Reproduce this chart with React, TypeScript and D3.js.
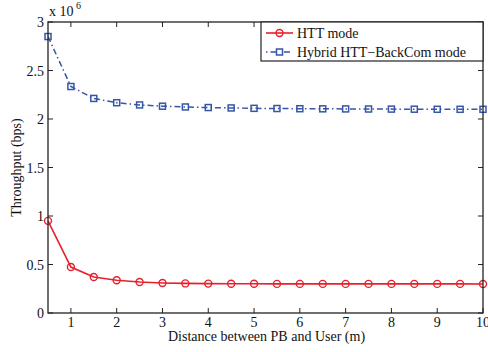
import React from "react";
import * as d3 from "d3";

const distances = [0.5, 1, 1.5, 2, 2.5, 3, 3.5, 4, 4.5, 5, 5.5, 6, 6.5, 7, 7.5, 8, 8.5, 9, 9.5, 10];
const httMode = [0.95, 0.474, 0.371, 0.337, 0.32, 0.31, 0.305, 0.303, 0.302, 0.301, 0.3, 0.3, 0.3, 0.3, 0.3, 0.3, 0.3, 0.3, 0.3, 0.299].map((v) => v * 1e6);
const hybridMode = [2.85, 2.335, 2.212, 2.168, 2.145, 2.132, 2.124, 2.118, 2.114, 2.11, 2.108, 2.106, 2.105, 2.104, 2.103, 2.102, 2.101, 2.1, 2.1, 2.1].map((v) => v * 1e6);
const xTicks = [1, 2, 3, 4, 5, 6, 7, 8, 9, 10];
const yTicks = [0, 0.5, 1, 1.5, 2, 2.5, 3].map((v) => v * 1e6);
const legendLabels = ["HTT mode", "Hybrid HTT\u2212BackCom mode"];

const W = 488;
const H = 352;
const m = { left: 48, right: 5, top: 22, bottom: 39 };
const RED = "#e8202a";
const BLUE = "#3756a8";
const FONT = "'Liberation Serif', 'Times New Roman', serif";
const FS = 14;

export default function App() {
  const x = d3.scaleLinear().domain([0.5, 10]).range([m.left, W - m.right]);
  const y = d3.scaleLinear().domain([0, 3e6]).range([H - m.bottom, m.top]);
  const line = d3
    .line<number>()
    .x((_, i) => x(distances[i]))
    .y((d) => y(d));
  const x0 = x.range()[0], x1 = x.range()[1];
  const y0 = y.range()[0], y1 = y.range()[1];
  const tl = 5;

  return (
    <svg width={W} height={H} style={{ position: "absolute", left: 0, top: 0, background: "#fff" }} fontFamily={FONT}>
      <rect x={0} y={0} width={W} height={H} fill="#fff" />
      {/* ticks */}
      {xTicks.map((t) => (
        <g key={"x" + t}>
          <line x1={x(t)} x2={x(t)} y1={y0} y2={y0 - tl} stroke="#222" />
          <line x1={x(t)} x2={x(t)} y1={y1} y2={y1 + tl} stroke="#222" />
          <text x={x(t)} y={y0 + 14} textAnchor="middle" fontSize={FS} fill="#111">{t}</text>
        </g>
      ))}
      {yTicks.map((t) => (
        <g key={"y" + t}>
          <line x1={x0} x2={x0 + tl} y1={y(t)} y2={y(t)} stroke="#222" />
          <line x1={x1} x2={x1 - tl} y1={y(t)} y2={y(t)} stroke="#222" />
          <text x={x0 - 4} y={y(t) + 5} textAnchor="end" fontSize={FS} fill="#111">{t / 1e6}</text>
        </g>
      ))}
      <text x={x0 + 1} y={16} fontSize={FS} fill="#111">x 10</text>
      <text x={x0 + 28} y={9} fontSize={10} fill="#111">6</text>

      {/* series */}
      <path d={line(hybridMode) ?? ""} fill="none" stroke={BLUE} strokeWidth={1.5} strokeDasharray="6 3 1.5 3" />
      {hybridMode.map((v, i) => (
        <rect key={"b" + i} x={x(distances[i]) - 3} y={y(v) - 3} width={6} height={6} fill="none" stroke={BLUE} strokeWidth={1.5} />
      ))}
      <path d={line(httMode) ?? ""} fill="none" stroke={RED} strokeWidth={1.6} />
      {httMode.map((v, i) => (
        <circle key={"r" + i} cx={x(distances[i])} cy={y(v)} r={3.5} fill="none" stroke={RED} strokeWidth={1.4} />
      ))}

      {/* axes box */}
      <rect x={x0} y={y1} width={x1 - x0} height={y0 - y1} fill="none" stroke="#222" strokeWidth={1.3} />

      {/* legend */}
      <g>
        <rect x={261} y={y1} width={x1 - 261} height={39} fill="#fff" stroke="#222" strokeWidth={1.2} />
        <line x1={266} x2={293} y1={33} y2={33} stroke={RED} strokeWidth={1.6} />
        <circle cx={279.5} cy={33} r={3.5} fill="none" stroke={RED} strokeWidth={1.4} />
        <text x={297} y={38} fontSize={FS} fill="#111">{legendLabels[0]}</text>
        <line x1={266} x2={293} y1={52} y2={52} stroke={BLUE} strokeWidth={1.5} strokeDasharray="1.5 3 6 3" />
        <rect x={276.5} y={49} width={6} height={6} fill="#fff" stroke={BLUE} strokeWidth={1.5} />
        <text x={297} y={57} fontSize={FS} fill="#111">{legendLabels[1]}</text>
      </g>

      <text x={(x0 + x1) / 2 + 1} y={H - 11} textAnchor="middle" fontSize={FS} fill="#111">Distance between PB and User (m)</text>
      <text transform={`translate(21,${(y0 + y1) / 2}) rotate(-90)`} textAnchor="middle" fontSize={FS} fill="#111">Throughput (bps)</text>
    </svg>
  );
}
